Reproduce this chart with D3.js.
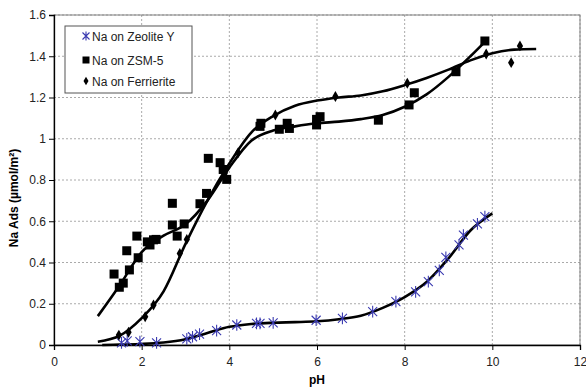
<!DOCTYPE html>
<html>
<head>
<meta charset="utf-8">
<script src="https://d3js.org/d3.v7.min.js"></script>
<style>
  body { margin: 0; background: #fff; }
  text { font-family: "Liberation Sans", Arial, sans-serif; }
</style>
</head>
<body>
<svg id="chart" width="586" height="389"></svg>
<script>
// measured points
const zeoliteX = [1.54, 1.67, 1.96, 2.34, 3.03, 3.16, 3.32, 3.71, 4.17, 4.62, 4.7, 5.0, 5.98, 6.58, 7.27, 7.8, 8.25, 8.54, 8.79, 8.94, 9.24, 9.34, 9.66, 9.83];
const zeoliteY = [0.01, 0.02, 0.016, 0.01, 0.03, 0.04, 0.053, 0.07, 0.097, 0.105, 0.105, 0.107, 0.12, 0.129, 0.162, 0.21, 0.258, 0.307, 0.362, 0.425, 0.485, 0.533, 0.587, 0.622];

const zsmX = [1.37, 1.49, 1.58, 1.66, 1.72, 1.89, 1.92, 2.13, 2.19, 2.27, 2.33, 2.70, 2.70, 2.81, 2.97, 3.33, 3.48, 3.52, 3.79, 3.86, 3.94, 4.72, 4.70, 5.14, 5.32, 5.37, 5.99, 6.07, 5.99, 7.4, 8.1, 8.22, 9.17, 9.83];
const zsmY = [0.344, 0.28, 0.30, 0.457, 0.364, 0.528, 0.423, 0.50, 0.485, 0.51, 0.512, 0.687, 0.582, 0.528, 0.587, 0.685, 0.735, 0.905, 0.884, 0.851, 0.803, 1.075, 1.06, 1.046, 1.075, 1.05, 1.094, 1.107, 1.067, 1.09, 1.164, 1.223, 1.325, 1.474];

const ferrX = [1.48, 1.70, 2.08, 2.27, 2.87, 3.03, 3.9, 4.2, 5.05, 6.42, 8.06, 9.86, 10.43, 10.63];
const ferrY = [0.048, 0.062, 0.137, 0.194, 0.444, 0.512, 0.82, 0.932, 1.115, 1.205, 1.269, 1.411, 1.369, 1.45];

// fitted trend lines
const zeoliteFitX = [1.1, 1.5, 2, 2.5, 3, 3.5, 4, 4.5, 5, 5.5, 6, 6.5, 7, 7.5, 8, 8.5, 9, 9.5, 10];
const zeoliteFitY = [0.0, 0.002, 0.005, 0.012, 0.028, 0.058, 0.088, 0.102, 0.108, 0.111, 0.115, 0.125, 0.142, 0.18, 0.232, 0.305, 0.42, 0.555, 0.638];

const zsmFitX = [1.0, 1.5, 2, 2.5, 3, 3.5, 4, 4.5, 5, 5.5, 6, 6.5, 7, 7.5, 8, 8.5, 9, 9.5, 9.83];
const zsmFitY = [0.14, 0.29, 0.45, 0.53, 0.585, 0.70, 0.86, 0.99, 1.04, 1.06, 1.075, 1.083, 1.095, 1.115, 1.155, 1.215, 1.30, 1.40, 1.47];

const ferrFitX = [1.0, 1.5, 2, 2.5, 3, 3.5, 4, 4.5, 5, 5.5, 6, 6.5, 7, 7.5, 8, 8.5, 9, 9.5, 10, 10.5, 11];
const ferrFitY = [0.016, 0.045, 0.13, 0.26, 0.49, 0.70, 0.88, 1.03, 1.11, 1.16, 1.185, 1.20, 1.21, 1.23, 1.26, 1.295, 1.335, 1.38, 1.415, 1.432, 1.435];

const xTicks = [0, 2, 4, 6, 8, 10, 12];
const yTicks = [0, 0.2, 0.4, 0.6, 0.8, 1, 1.2, 1.4, 1.6];
const legendNames = ["Na on Zeolite Y", "Na on ZSM-5", "Na on Ferrierite"];

const plotL = 54, plotR = 580, plotT = 15, plotB = 345;
const blue = "#3a3ab0";

const svg = d3.select("#chart");
const x = d3.scaleLinear().domain([0, 12]).range([plotL, plotR]);
const y = d3.scaleLinear().domain([0, 1.6]).range([plotB, plotT]);

// grid
svg.append("g").selectAll("line").data(xTicks.slice(1)).enter().append("line")
  .attr("x1", d => x(d)).attr("x2", d => x(d)).attr("y1", plotT).attr("y2", plotB)
  .attr("stroke", "#aaa").attr("stroke-dasharray", "2,2");
svg.append("g").selectAll("line").data(yTicks.slice(1)).enter().append("line")
  .attr("x1", plotL).attr("x2", plotR).attr("y1", d => y(d)).attr("y2", d => y(d))
  .attr("stroke", "#aaa").attr("stroke-dasharray", "2,2");

// plot border
svg.append("rect").attr("x", plotL).attr("y", plotT).attr("width", plotR - plotL).attr("height", plotB - plotT)
  .attr("fill", "none").attr("stroke", "#808080");

// axes
const xAxis = svg.append("g").attr("transform", "translate(0," + plotB + ")")
  .call(d3.axisBottom(x).tickValues(xTicks).tickSize(5).tickFormat(d3.format("d")));
const yAxis = svg.append("g").attr("transform", "translate(" + plotL + ",0)")
  .call(d3.axisLeft(y).tickValues(yTicks).tickSize(5).tickFormat(d => d === 0 ? "0" : d3.format("~g")(d)));
[xAxis, yAxis].forEach(a => {
  a.select(".domain").attr("stroke", "#000").attr("stroke-width", 1.3);
  a.selectAll(".tick line").attr("stroke", "#000");
  a.selectAll(".tick text").attr("fill", "#222").style("font-size", "12px");
});
xAxis.selectAll(".tick text").attr("dy", "1.05em");

// fit lines
const line = d3.line().x(d => x(d[0])).y(d => y(d[1])).curve(d3.curveMonotoneX);
[[zeoliteFitX, zeoliteFitY], [zsmFitX, zsmFitY], [ferrFitX, ferrFitY]].forEach(s => {
  svg.append("path").datum(s[0].map((v, i) => [v, s[1][i]]))
    .attr("d", line).attr("fill", "none").attr("stroke", "#000").attr("stroke-width", 2.6);
});

// markers
function star(g, cx, cy, r) {
  g.append("path")
    .attr("d", "M" + (cx - r) + "," + (cy - r) + "L" + (cx + r) + "," + (cy + r) +
      "M" + (cx - r) + "," + (cy + r) + "L" + (cx + r) + "," + (cy - r) +
      "M" + cx + "," + (cy - r * 1.3) + "L" + cx + "," + (cy + r * 1.3))
    .attr("stroke", blue).attr("stroke-width", 1.1).attr("fill", "none");
}
const zg = svg.append("g");
zeoliteX.forEach((v, i) => star(zg, x(v), y(zeoliteY[i]), 4.5));

svg.append("g").selectAll("rect").data(zsmX.map((v, i) => [v, zsmY[i]])).enter().append("rect")
  .attr("x", d => x(d[0]) - 4.5).attr("y", d => y(d[1]) - 4.5)
  .attr("width", 9).attr("height", 9).attr("fill", "#000");

const diamond = d3.symbol().type(d3.symbolDiamond).size(34);
svg.append("g").selectAll("path").data(ferrX.map((v, i) => [v, ferrY[i]])).enter().append("path")
  .attr("d", diamond).attr("transform", d => "translate(" + x(d[0]) + "," + y(d[1]) + ")")
  .attr("fill", "#000");

// legend
const lg = svg.append("g");
lg.append("rect").attr("x", 65).attr("y", 26).attr("width", 127).attr("height", 67)
  .attr("fill", "#fff").attr("stroke", "#555");
const rowY = [36, 60, 81];
star(lg, 86, rowY[0], 3.5);
lg.append("rect").attr("x", 82.5).attr("y", rowY[1] - 3.5).attr("width", 7).attr("height", 7).attr("fill", "#000");
lg.append("path").attr("d", d3.symbol().type(d3.symbolDiamond).size(22))
  .attr("transform", "translate(86," + rowY[2] + ")").attr("fill", "#000");
lg.selectAll("text").data(legendNames).enter().append("text")
  .attr("x", 92).attr("y", (d, i) => rowY[i] + 4.5)
  .style("font-size", "12px").attr("fill", "#222").text(d => d);

// axis titles
svg.append("text").attr("x", (plotL + plotR) / 2).attr("y", 384).attr("text-anchor", "middle")
  .style("font-size", "12px").style("font-weight", "bold").text("pH");
svg.append("text").attr("transform", "translate(18,198) rotate(-90)").attr("text-anchor", "middle")
  .style("font-size", "12px").style("font-weight", "bold").text("Na Ads (µmol/m²)");
</script>
</body>
</html>
